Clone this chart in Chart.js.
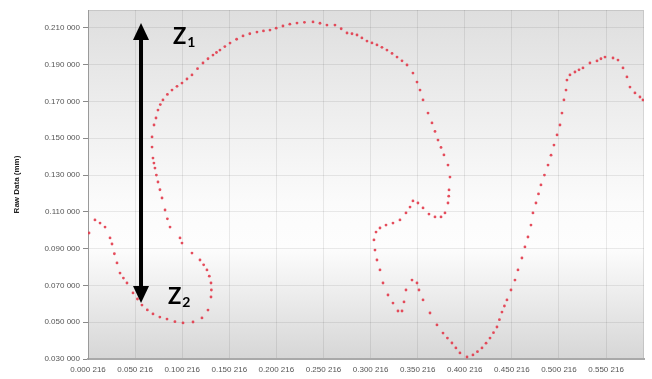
<!DOCTYPE html>
<html><head><meta charset="utf-8">
<script src="https://cdn.jsdelivr.net/npm/chart.js@4"></script>
<style>html,body{margin:0;padding:0;background:#fff}#wrap{width:652px;height:379px}</style>
</head><body><div id="wrap"><canvas id="c" width="652" height="379"></canvas></div>
<script>
const xValues=[0.0013,0.0076,0.0130,0.0183,0.0236,0.0257,0.0282,0.0310,0.0342,0.0378,0.0416,0.0480,0.0527,0.0575,0.0632,0.0692,0.0765,0.0841,0.0925,0.1011,0.1117,0.1212,0.1276,0.1308,0.1312,0.1308,0.1290,0.1265,0.1230,0.1191,0.1106,0.1000,0.0979,0.0873,0.0845,0.0820,0.0788,0.0766,0.0745,0.0728,0.0713,0.0702,0.0692,0.0682,0.0682,0.0703,0.0724,0.0745,0.0770,0.0798,0.0845,0.0894,0.0947,0.1000,0.1053,0.1106,0.1165,0.1223,0.1276,0.1329,0.1366,0.1403,0.1455,0.1510,0.1580,0.1648,0.1720,0.1796,0.1865,0.1934,0.2000,0.2072,0.2145,0.2221,0.2300,0.2391,0.2465,0.2539,0.2624,0.2690,0.2752,0.2805,0.2858,0.2910,0.2964,0.3017,0.3070,0.3123,0.3176,0.3230,0.3283,0.3336,0.3389,0.3452,0.3495,0.3527,0.3559,0.3612,0.3654,0.3686,0.3718,0.3750,0.3781,0.3824,0.3845,0.3835,0.3832,0.3824,0.3792,0.3750,0.3686,0.3622,0.3559,0.3505,0.3452,0.3421,0.3378,0.3314,0.3240,0.3166,0.3102,0.3060,0.3038,0.3049,0.3070,0.3102,0.3134,0.3187,0.3240,0.3293,0.3336,0.3357,0.3378,0.3442,0.3495,0.3516,0.3559,0.3633,0.3707,0.3771,0.3818,0.3866,0.3908,0.3951,0.4026,0.4089,0.4137,0.4185,0.4228,0.4270,0.4307,0.4344,0.4370,0.4397,0.4423,0.4450,0.4493,0.4535,0.4567,0.4609,0.4641,0.4673,0.4705,0.4726,0.4758,0.4785,0.4811,0.4848,0.4886,0.4918,0.4949,0.4982,0.5013,0.5034,0.5055,0.5077,0.5087,0.5119,0.5172,0.5215,0.5257,0.5331,0.5406,0.5448,0.5491,0.5576,0.5629,0.5682,0.5724,0.5756,0.5809,0.5862,0.5894];
const yValues=[0.0985,0.1056,0.1039,0.1017,0.0958,0.0925,0.0872,0.0822,0.0767,0.0740,0.0713,0.0659,0.0626,0.0593,0.0567,0.0545,0.0528,0.0517,0.0503,0.0496,0.0501,0.0523,0.0566,0.0637,0.0675,0.0713,0.0750,0.0784,0.0812,0.0838,0.0876,0.0930,0.0958,0.1017,0.1062,0.1110,0.1175,0.1220,0.1262,0.1300,0.1338,0.1365,0.1392,0.1452,0.1507,0.1572,0.1610,0.1653,0.1683,0.1708,0.1738,0.1762,0.1782,0.1800,0.1822,0.1844,0.1878,0.1909,0.1932,0.1952,0.1966,0.1979,0.1998,0.2017,0.2038,0.2056,0.2068,0.2077,0.2083,0.2088,0.2098,0.2110,0.2120,0.2126,0.2130,0.2132,0.2125,0.2115,0.2115,0.2095,0.2072,0.2068,0.2061,0.2045,0.2028,0.2018,0.2007,0.1994,0.1979,0.1961,0.1941,0.1921,0.1898,0.1854,0.1805,0.1762,0.1708,0.1637,0.1583,0.1537,0.1490,0.1450,0.1409,0.1354,0.1289,0.1219,0.1185,0.1148,0.1094,0.1072,0.1072,0.1088,0.1121,0.1148,0.1159,0.1126,0.1094,0.1056,0.1039,0.1028,0.1012,0.0990,0.0947,0.0892,0.0838,0.0784,0.0713,0.0648,0.0604,0.0561,0.0561,0.0610,0.0675,0.0729,0.0713,0.0675,0.0621,0.0550,0.0485,0.0441,0.0414,0.0387,0.0360,0.0333,0.0311,0.0322,0.0340,0.0360,0.0386,0.0414,0.0443,0.0474,0.0514,0.0555,0.0588,0.0621,0.0675,0.0729,0.0784,0.0849,0.0909,0.0963,0.1028,0.1094,0.1148,0.1197,0.1246,0.1300,0.1354,0.1408,0.1463,0.1518,0.1572,0.1637,0.1708,0.1762,0.1816,0.1844,0.1860,0.1872,0.1882,0.1909,0.1920,0.1932,0.1941,0.1936,0.1925,0.1882,0.1833,0.1778,0.1746,0.1724,0.1708];
const xTickValues=[0.000216,0.050216,0.100216,0.150216,0.200216,0.250216,0.300216,0.350216,0.400216,0.450216,0.500216,0.550216];
const xTickLabels=["0.000 216","0.050 216","0.100 216","0.150 216","0.200 216","0.250 216","0.300 216","0.350 216","0.400 216","0.450 216","0.500 216","0.550 216"];
const yTickValues=[0.03,0.05,0.07,0.09,0.11,0.13,0.15,0.17,0.19,0.21];
const yTickLabels=["0.030 000","0.050 000","0.070 000","0.090 000","0.110 000","0.130 000","0.150 000","0.170 000","0.190 000","0.210 000"];
const axisTitle="Raw Data (mm)";
const arrowX=0.0565, arrowTop=0.2126, arrowBottom=0.0604;
const zLabels=[{x:0.0905,y:0.2012,sub:"1"},{x:0.0851,y:0.0599,sub:"2"}];

const points=xValues.map((x,i)=>({x:x,y:yValues[i]}));

const bgPlugin={id:'bg',beforeDraw(chart){const {ctx,chartArea:a}=chart;const g=ctx.createLinearGradient(0,a.top,0,a.bottom);
g.addColorStop(0,'#dedede');g.addColorStop(0.2,'#e9e9e9');g.addColorStop(0.55,'#fbfbfb');g.addColorStop(0.68,'#fdfdfd');g.addColorStop(1,'#d6d6d6');
ctx.save();ctx.fillStyle=g;ctx.fillRect(a.left,a.top,a.right-a.left,a.bottom-a.top);
ctx.strokeStyle='rgba(0,0,0,0.10)';ctx.lineWidth=1;ctx.beginPath();ctx.moveTo(a.left,a.top+0.5);ctx.lineTo(a.right-0.5,a.top+0.5);ctx.lineTo(a.right-0.5,a.bottom);ctx.stroke();ctx.restore();}};

const annoPlugin={id:'anno',afterDraw(chart){const ctx=chart.ctx;const xs=chart.scales.x, ys=chart.scales.y;
const ax=xs.getPixelForValue(arrowX), at=ys.getPixelForValue(arrowTop), ab=ys.getPixelForValue(arrowBottom);
const hw=8, hh=17;
ctx.save();ctx.fillStyle='#000';ctx.strokeStyle='#000';ctx.lineWidth=4;
ctx.beginPath();ctx.moveTo(ax,at+hh-1);ctx.lineTo(ax,ab-hh+1);ctx.stroke();
ctx.beginPath();ctx.moveTo(ax,at);ctx.lineTo(ax-hw,at+hh);ctx.lineTo(ax+hw,at+hh);ctx.closePath();ctx.fill();
ctx.beginPath();ctx.moveTo(ax,ab);ctx.lineTo(ax-hw,ab-hh);ctx.lineTo(ax+hw,ab-hh);ctx.closePath();ctx.fill();
ctx.textBaseline='alphabetic';ctx.textAlign='left';
zLabels.forEach(z=>{const px=xs.getPixelForValue(z.x), py=ys.getPixelForValue(z.y);
ctx.font='bold 22px Lato';ctx.fillText('Z',px,py);const w=ctx.measureText('Z').width;
ctx.font='bold 14px Lato';ctx.fillText(z.sub,px+w+1,py+3);});
ctx.restore();}};

new Chart(document.getElementById('c'),{type:'scatter',
data:{datasets:[{data:points,pointRadius:1.4,pointHoverRadius:1.4,backgroundColor:'rgba(226,58,74,0.9)',borderWidth:0,showLine:false}]},
options:{responsive:false,animation:false,devicePixelRatio:1,
layout:{padding:{top:10,right:8,left:0,bottom:0}},
plugins:{legend:{display:false},tooltip:{enabled:false}},
scales:{
x:{type:'linear',min:0.000216,max:0.5905,
afterBuildTicks:s=>{s.ticks=xTickValues.map(v=>({value:v}));},
afterFit:s=>{s.height=20;},
ticks:{autoSkip:false,maxRotation:0,padding:6,color:'#555',font:{family:'Liberation Sans',size:8},callback:(v,i)=>xTickLabels[i]},
grid:{color:'rgba(0,0,0,0.08)',drawTicks:false},
border:{color:'#a9a9a9',width:2}},
y:{type:'linear',min:0.03,max:0.2197,
afterBuildTicks:s=>{s.ticks=yTickValues.map(v=>({value:v}));},
afterFit:s=>{s.width=88;},
ticks:{autoSkip:false,padding:3,color:'#555',font:{family:'Liberation Sans',size:8},callback:(v,i)=>yTickLabels[i]},
grid:{color:'rgba(0,0,0,0.08)',tickLength:5,tickColor:'#8a8a8a'},
border:{color:'#9a9a9a',width:1},
title:{display:true,text:axisTitle,color:'#222',font:{family:'Liberation Sans',size:8,weight:'bold'},padding:{top:12,bottom:0}}}
}},
plugins:[bgPlugin,annoPlugin]});
</script></body></html>
